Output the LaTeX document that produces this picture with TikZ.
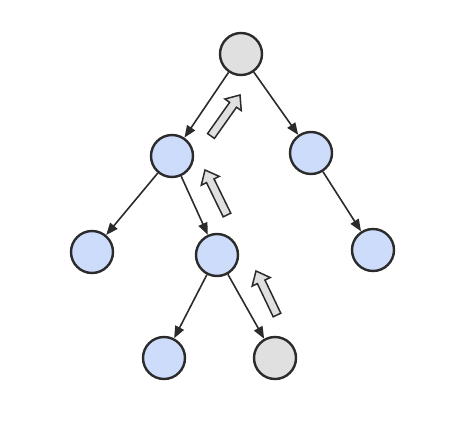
\documentclass[tikz,border=0pt]{standalone}
\usetikzlibrary{arrows.meta,calc}
\definecolor{nodeblue}{HTML}{CCDCFA}
\definecolor{nodegray}{HTML}{E0E0E0}
\definecolor{ink}{HTML}{2B2B2B}
\tikzset{
  treenode/.style={circle, draw=ink, line width=2.4pt, minimum size=42pt, inner sep=0pt},
  bluenode/.style={treenode, fill=nodeblue},
  graynode/.style={treenode, fill=nodegray},
  edge/.style={draw=ink, line width=1.6pt, -{Triangle[length=12pt,width=9.5pt]}},
  barrow/.style={draw=ink, fill=nodegray, line width=1.5pt, line join=miter},
}
\newcommand{\blockarr}[3]{%
  \coordinate (#3n) at ($(#2)!12pt!(#1)$);
  \draw[barrow] ($(#1)!4.2pt!90:(#2)$) -- ($(#3n)!4.2pt!-90:(#1)$) -- ($(#3n)!10pt!-90:(#1)$)
    -- (#2) -- ($(#3n)!10pt!90:(#1)$) -- ($(#3n)!4.2pt!90:(#1)$) -- ($(#1)!4.2pt!-90:(#2)$) -- cycle;
}
\begin{document}
\begin{tikzpicture}[x=1pt,y=-1pt]
\useasboundingbox (0,0) rectangle (470,433);
\node[graynode] (root) at (241,54) {};
\node[bluenode] (l) at (172,156) {};
\node[bluenode] (r) at (311,153) {};
\node[bluenode] (ll) at (92,252) {};
\node[bluenode] (lr) at (217,255) {};
\node[bluenode] (rr) at (373,250) {};
\node[bluenode] (lrl) at (164,358) {};
\node[graynode] (lrr) at (275,358) {};
\draw[edge] (root) -- (l);
\draw[edge] (root) -- (r);
\draw[edge] (l) -- (ll);
\draw[edge] (l) -- (lr);
\draw[edge] (r) -- (rr);
\draw[edge] (lr) -- (lrl);
\draw[edge] (lr) -- (lrr);
\coordinate (a1t) at (211,136);
\coordinate (a1h) at (240,95);
\coordinate (a2t) at (227,215);
\coordinate (a2h) at (205,170);
\coordinate (a3t) at (277,315);
\coordinate (a3h) at (256,271);
\blockarr{a1t}{a1h}{aa}
\blockarr{a2t}{a2h}{ab}
\blockarr{a3t}{a3h}{ac}
\end{tikzpicture}
\end{document}
